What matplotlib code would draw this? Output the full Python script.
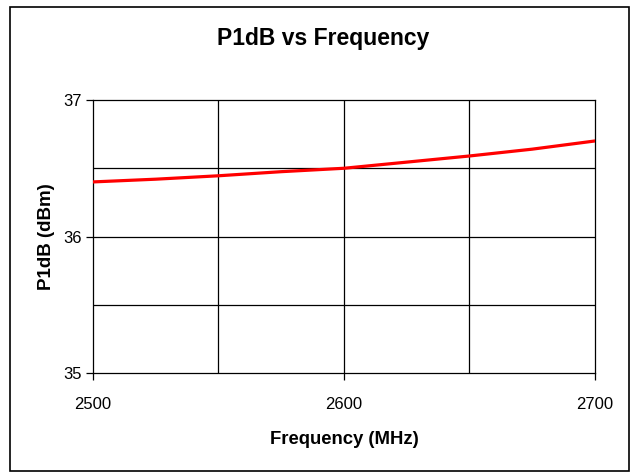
import matplotlib.pyplot as plt
from matplotlib.patches import Rectangle

# data
freq = [2500, 2525, 2550, 2575, 2600, 2625, 2650, 2675, 2700]
p1db = [36.40, 36.42, 36.445, 36.475, 36.50, 36.545, 36.59, 36.64, 36.70]

xticks = [2500, 2600, 2700]
yticks = [35, 36, 37]

plt.rcParams['font.family'] = ['Liberation Sans', 'DejaVu Sans']

fig = plt.figure(figsize=(6.3, 4.72), dpi=100)
ax = fig.add_axes([0.1476, 0.2097, 0.7968, 0.5784])

# grid (every 50 MHz / 0.5 dBm), labels only on major ticks
for x in [2550, 2600, 2650]:
    ax.axvline(x, color="k", lw=0.9, zorder=1)
for y in [35.5, 36, 36.5]:
    ax.axhline(y, color="k", lw=0.9, zorder=1)

ax.plot(freq, p1db, color="#ff0000", lw=2.3, zorder=3)

ax.set_xlim(2500, 2700)
ax.set_ylim(35, 37)
ax.set_xticks(xticks)
ax.set_yticks(yticks)
ax.set_xticklabels([str(t) for t in xticks], fontsize=12)
ax.set_yticklabels([str(t) for t in yticks], fontsize=12)
ax.tick_params(direction="out", length=5, width=0.9, color="k")
ax.tick_params(axis="x", pad=12)
ax.tick_params(axis="y", pad=3)
for s in ax.spines.values():
    s.set_color("k")
    s.set_linewidth(0.9)

ax.set_xlabel("Frequency (MHz)", fontsize=13.3, fontweight="bold", labelpad=14)
ax.set_ylabel("P1dB (dBm)", fontsize=13.5, fontweight="bold", labelpad=6)
fig.text(0.5135, 0.918, "P1dB vs Frequency", fontsize=16.5, fontweight="bold",
         ha="center", va="center")

# outer chart border
fig.patches.append(Rectangle((10 / 630, 1 / 472), 619 / 630, 464 / 472,
                             transform=fig.transFigure, fill=False,
                             edgecolor="k", lw=1.2))

fig.savefig("out.png", dpi=100)
